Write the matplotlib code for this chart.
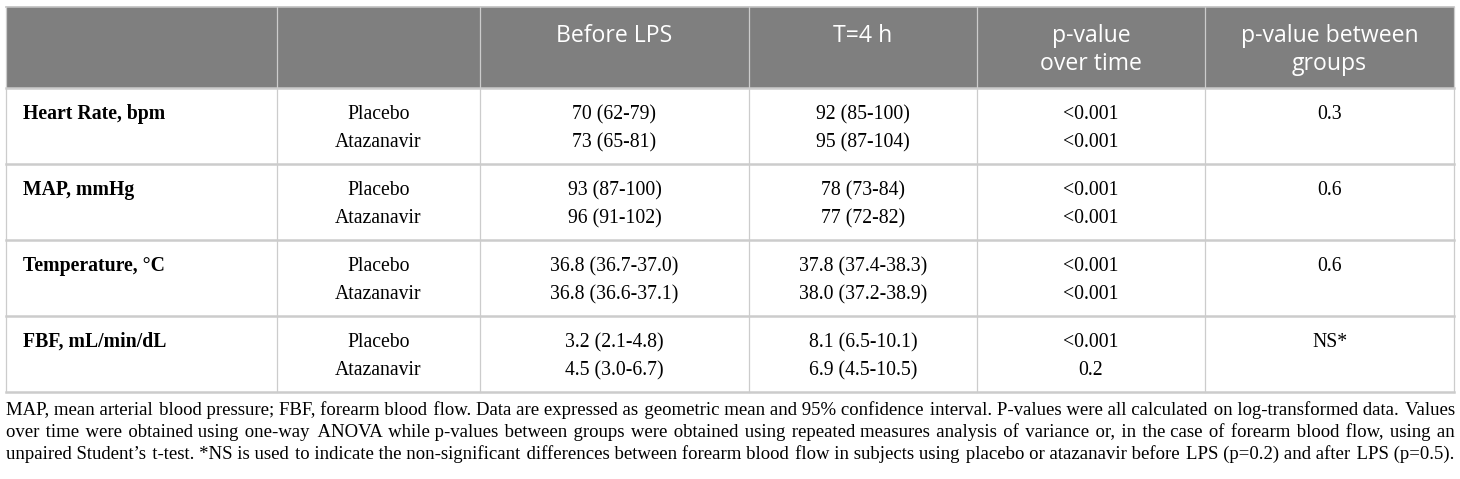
import matplotlib.pyplot as plt

# table content
headers = [[], [], ["Before LPS"], ["T=4 h"], ["p-value", "over time"], ["p-value between", "groups"]]
variables = ["Heart Rate, bpm", "MAP, mmHg", "Temperature, °C", "FBF, mL/min/dL"]
groups = ["Placebo", "Atazanavir"]
before_lps = [["70 (62-79)", "73 (65-81)"],
              ["93 (87-100)", "96 (91-102)"],
              ["36.8 (36.7-37.0)", "36.8 (36.6-37.1)"],
              ["3.2 (2.1-4.8)", "4.5 (3.0-6.7)"]]
after_4h = [["92 (85-100)", "95 (87-104)"],
            ["78 (73-84)", "77 (72-82)"],
            ["37.8 (37.4-38.3)", "38.0 (37.2-38.9)"],
            ["8.1 (6.5-10.1)", "6.9 (4.5-10.5)"]]
p_time = [["<0.001", "<0.001"],
          ["<0.001", "<0.001"],
          ["<0.001", "<0.001"],
          ["<0.001", "0.2"]]
p_between = ["0.3", "0.6", "0.6", "NS*"]

foot_lines = [
    "MAP, mean arterial blood pressure; FBF, forearm blood flow. Data are expressed as geometric mean and 95% confidence interval. P-values were all calculated on log-transformed data. Values",
    "over time were obtained using one-way ANOVA while p-values between groups were obtained using repeated measures analysis of variance or, in the case of forearm blood flow, using an",
    "unpaired Student\u2019s t-test. *NS is used to indicate the non-significant differences between forearm blood flow in subjects using placebo or atazanavir before LPS (p=0.2) and after LPS (p=0.5).",
]

W, H = 1460, 479
fig = plt.figure(figsize=(W / 100, H / 100), dpi=100)
ax = fig.add_axes([0, 0, 1, 1])
ax.set_xlim(0, W)
ax.set_ylim(H, 0)
ax.axis("off")

col_x = [6, 277, 480, 749, 977, 1205, 1454]
top, head_bot = 7, 88
row_h = 76
bottom = head_bot + row_h * len(variables)
serif = "Liberation Serif"
sans = "Open Sans"
fs = 14.2
line_col = "#cccccc"

# header
ax.add_patch(plt.Rectangle((col_x[0], top), col_x[-1] - col_x[0], head_bot - top,
                           facecolor="#7f7f7f", edgecolor="none"))
for i, lines in enumerate(headers):
    cx = (col_x[i] + col_x[i + 1]) / 2 if i < len(col_x) - 1 else 0
    for j, s in enumerate(lines):
        ax.text(cx, 42 + j * 28, s, ha="center", va="baseline", color="white",
                family=sans, fontsize=16.6)

# grid lines
ax.plot([col_x[0], col_x[-1]], [top, top], color="#c0c0c0", lw=1.2)
for k in range(len(variables) + 1):
    y = head_bot + k * row_h
    ax.plot([col_x[0], col_x[-1]], [y, y], color=line_col, lw=1.8)
for x in col_x:
    ax.plot([x, x], [top, bottom], color=line_col, lw=0.9)

# body
for r, var in enumerate(variables):
    y0 = head_bot + r * row_h + 31
    ax.text(23, y0, var, ha="left", va="baseline", family=serif,
            fontsize=fs, fontweight="bold")
    for g in range(2):
        yy = y0 + g * 28
        cells = [groups[g], before_lps[r][g], after_4h[r][g], p_time[r][g]]
        for c, val in enumerate(cells):
            cx = (col_x[c + 1] + col_x[c + 2]) / 2
            ax.text(cx, yy, val, ha="center", va="baseline", family=serif, fontsize=fs)
    ax.text((col_x[5] + col_x[6]) / 2, y0, p_between[r], ha="center",
            va="baseline", family=serif, fontsize=fs)

# justified footnote: one text per line, gaps padded with hair spaces
fig.canvas.draw()
renderer = fig.canvas.get_renderer()
inv = ax.transData.inverted()
foot_family = [serif, "DejaVu Serif"]
HAIR = "\u200a"


def text_width(s, size):
    t = ax.text(0, 0, s, family=foot_family, fontsize=size)
    bb = t.get_window_extent(renderer)
    t.remove()
    p0 = inv.transform((bb.x0, bb.y0))
    p1 = inv.transform((bb.x1, bb.y0))
    return p1[0] - p0[0]


x_left, x_right = 6, 1454
natural = max(text_width(l, 10) for l in foot_lines)
ffs = 10 * (x_right - x_left) / natural * 0.995
hair_w = (text_width("x" + HAIR * 40 + "x", ffs) - text_width("xx", ffs)) / 40

for i, line in enumerate(foot_lines):
    words = line.split(" ")
    widths = [text_width(w, ffs) for w in words]
    gap = (x_right - x_left - sum(widths)) / (len(words) - 1)
    s = words[0]
    target_end = widths[0]
    for w, wd in zip(words[1:], widths[1:]):
        target_end += gap + wd
        base = s + " "
        need = target_end - text_width(base + w, ffs)
        k = max(0, int(round(need / hair_w))) if hair_w > 0 else 0
        s = base + HAIR * k + w
    ax.text(x_left, 415 + i * 22, s, ha="left", va="baseline",
            family=foot_family, fontsize=ffs)

fig.savefig("out.png", dpi=100, facecolor="white")
